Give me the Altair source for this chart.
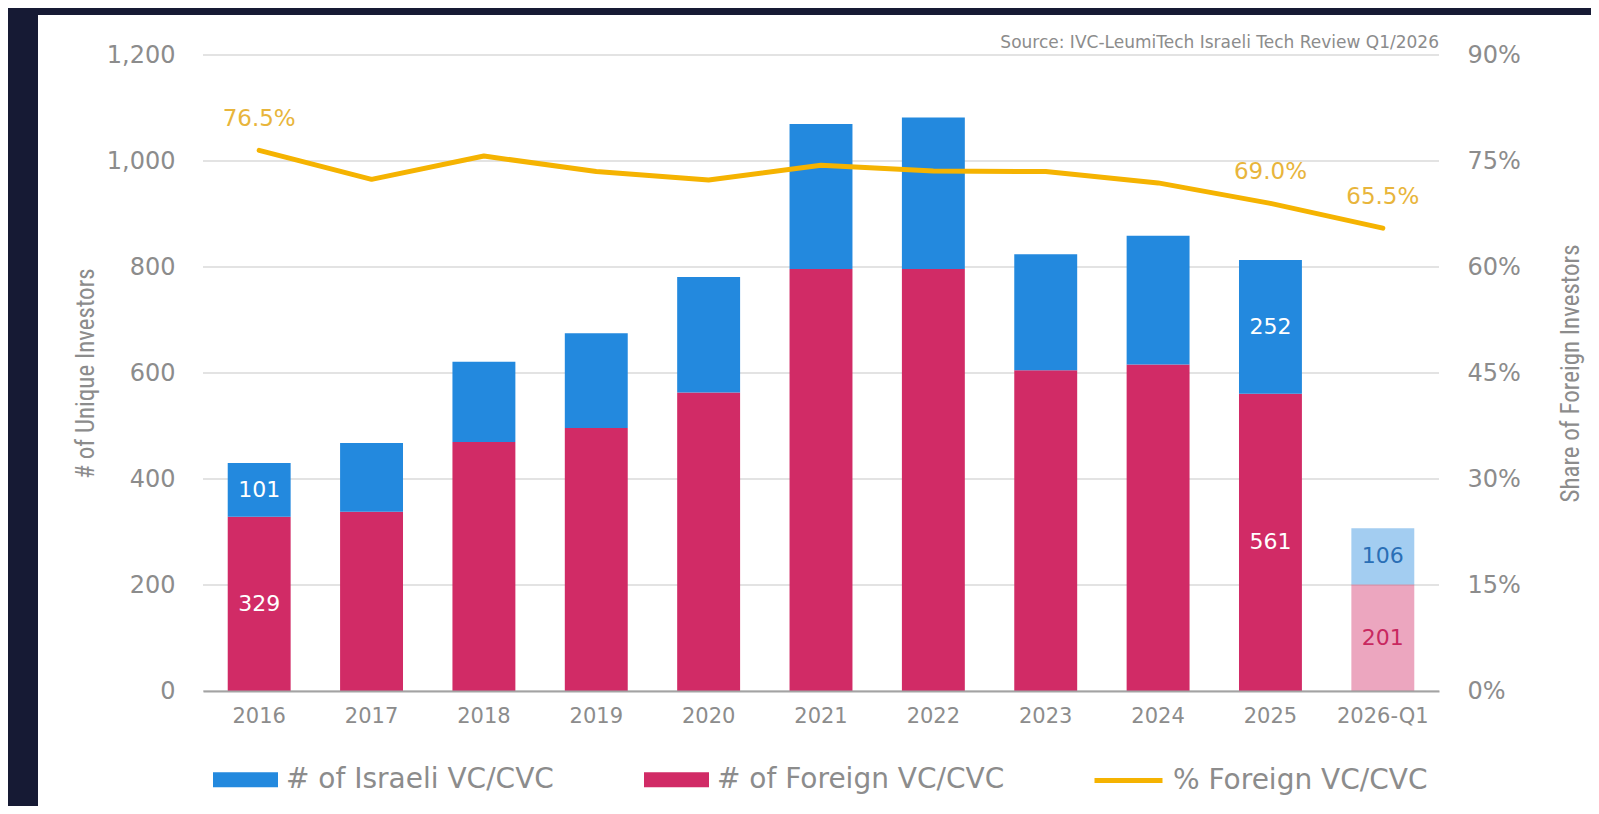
import altair as alt
import pandas as pd

# ---------------- data ----------------
PERIODS = ["2016", "2017", "2018", "2019", "2020", "2021", "2022", "2023", "2024", "2025", "2026-Q1"]
FOREIGN = [329, 338, 470, 496, 563, 796, 796, 605, 616, 561, 201]
ISRAELI = [101, 130, 151, 179, 218, 274, 286, 219, 243, 252, 106]
PCT_FOREIGN = [76.5, 72.4, 75.7, 73.5, 72.3, 74.4, 73.6, 73.5, 71.9, 69.0, 65.5]
LABELED = ["2016", "2025", "2026-Q1"]
PARTIAL = "2026-Q1"
SERIES = ["# of Israeli VC/CVC", "# of Foreign VC/CVC"]
LINE_SERIES = "% Foreign VC/CVC"
Y_LEFT_TICKS = [0, 200, 400, 600, 800, 1000, 1200]
Y_RIGHT_TICKS = [0, 15, 30, 45, 60, 75, 90]
SOURCE = "Source: IVC-LeumiTech Israeli Tech Review Q1/2026"
LEFT_TITLE = "# of Unique Investors"
RIGHT_TITLE = "Share of Foreign Investors"

# ---------------- style ----------------
NAVY = "#161a34"
BLUE = "#2389de"
PINK = "#d12b66"
YELLOW = "#f5b301"
LABEL_YELLOW = "#e8b53b"
DARK_BLUE = "#2a6fb6"
DARK_PINK = "#c8285f"
GRAY = "#8c8c8c"
GRID = "#dadada"
FONT = "DejaVu Sans"
NARROW = "Liberation Sans Narrow, Roboto Condensed, Roboto"

W, H = 1236, 636

rows = []
for p, f, i in zip(PERIODS, FOREIGN, ISRAELI):
    rows.append({"period": p, "series": SERIES[1], "value": f, "stack_order": 0, "mid": f / 2})
    rows.append({"period": p, "series": SERIES[0], "value": i, "stack_order": 1, "mid": f + i / 2})
bar_df = pd.DataFrame(rows)
line_df = pd.DataFrame({"period": PERIODS, "pct": PCT_FOREIGN, "series": LINE_SERIES})
tick_df = pd.DataFrame({"tick": Y_LEFT_TICKS})
src_df = pd.DataFrame({"text": [SOURCE]})

X = alt.X(
    "period:N", sort=PERIODS, title=None,
    scale=alt.Scale(paddingInner=0.44, paddingOuter=0.22),
    axis=alt.Axis(labelAngle=0, labelFont=FONT, labelFontSize=21, labelColor=GRAY,
                  labelPadding=14, ticks=False, tickSize=0, domainColor="#a3a3a3",
                  domainWidth=2, grid=False, zindex=1),
)
Y_LEFT_SCALE = alt.Scale(domain=[0, 1200], nice=False)
Y_RIGHT_SCALE = alt.Scale(domain=[0, 90], nice=False)
Y_LEFT_AXIS = alt.Axis(values=Y_LEFT_TICKS, labelExpr="format(datum.value, ',d')",
                       title=LEFT_TITLE, grid=False,
                       labelFont=FONT, labelFontSize=24, labelColor=GRAY, labelPadding=28,
                       ticks=False, tickSize=0, domain=False, titleFont=NARROW,
                       titleFontSize=25, titleFontWeight="normal", titleColor=GRAY,
                       titlePadding=8, zindex=1)

bg = alt.Chart(alt.Data(values=[{}])).mark_rect(color="white").encode(
    x=alt.value(-165), x2=alt.value(1400), y=alt.value(-40), y2=alt.value(760)
)

grid = alt.Chart(tick_df).mark_rule(color=GRID, strokeWidth=1.5).encode(
    y=alt.Y("tick:Q", scale=Y_LEFT_SCALE, axis=Y_LEFT_AXIS)
)

bars = alt.Chart(bar_df).mark_bar().encode(
    x=X,
    y=alt.Y("value:Q", stack="zero", scale=Y_LEFT_SCALE, axis=Y_LEFT_AXIS),
    fill=alt.Fill("series:N", scale=alt.Scale(domain=SERIES, range=[BLUE, PINK]),
                  legend=alt.Legend(orient="none", legendX=10, legendY=692,
                                    direction="horizontal", title=None,
                                    symbolType="M-1,-0.23H1V0.23H-1Z", symbolSize=4225,
                                    symbolStrokeWidth=0, symbolOpacity=1,
                                    labelFont=FONT, labelFontSize=28, labelColor=GRAY,
                                    labelOffset=8, columnPadding=90, labelLimit=600)),
    order=alt.Order("stack_order:Q"),
    opacity=alt.condition(alt.datum.period == PARTIAL, alt.value(0.42), alt.value(1.0)),
)

lab_base = alt.Chart(bar_df).transform_filter(
    alt.FieldOneOfPredicate(field="period", oneOf=LABELED)
)
lab_white = lab_base.transform_filter(alt.datum.period != PARTIAL).mark_text(
    font=FONT, fontSize=22, color="white", baseline="middle"
).encode(x=X, y=alt.Y("mid:Q", scale=Y_LEFT_SCALE, axis=Y_LEFT_AXIS), text="value:Q")
lab_blue = lab_base.transform_filter(
    (alt.datum.period == PARTIAL) & (alt.datum.series == SERIES[0])
).mark_text(font=FONT, fontSize=22, color=DARK_BLUE, baseline="middle").encode(
    x=X, y=alt.Y("mid:Q", scale=Y_LEFT_SCALE, axis=Y_LEFT_AXIS), text="value:Q")
lab_pink = lab_base.transform_filter(
    (alt.datum.period == PARTIAL) & (alt.datum.series == SERIES[1])
).mark_text(font=FONT, fontSize=22, color=DARK_PINK, baseline="middle").encode(
    x=X, y=alt.Y("mid:Q", scale=Y_LEFT_SCALE, axis=Y_LEFT_AXIS), text="value:Q")

source = alt.Chart(src_df).mark_text(
    font=FONT, fontSize=17, color=GRAY, align="right", baseline="middle"
).encode(x=alt.value(W), y=alt.value(-12), text="text:N")

left_group = alt.layer(grid, bars, lab_white, lab_blue, lab_pink, source)

line = alt.Chart(line_df).mark_line(strokeWidth=5, strokeCap="round", strokeJoin="round").encode(
    x=X,
    y=alt.Y("pct:Q", scale=Y_RIGHT_SCALE,
            axis=alt.Axis(orient="right", values=Y_RIGHT_TICKS, labelExpr="datum.value + '%'",
                          title=RIGHT_TITLE, grid=False, labelFont=FONT, labelFontSize=24,
                          labelColor=GRAY, labelPadding=28, ticks=False, tickSize=0,
                          domain=False, titleFont=NARROW, titleFontSize=25,
                          titleFontWeight="normal", titleColor=GRAY, titleAngle=270,
                          titleBaseline="top", titlePadding=38, zindex=1)),
    stroke=alt.Stroke("series:N", scale=alt.Scale(domain=[LINE_SERIES], range=[YELLOW]),
                      legend=alt.Legend(orient="none", legendX=889, legendY=689,
                                        direction="horizontal", title=None,
                                        symbolType="stroke", symbolSize=4624,
                                        symbolStrokeWidth=5, labelFont=FONT,
                                        labelFontSize=28, labelColor=GRAY, labelOffset=8,
                                        labelLimit=600)),
)

line_labels = alt.Chart(line_df).transform_filter(
    alt.FieldOneOfPredicate(field="period", oneOf=LABELED)
).transform_calculate(
    txt="format(datum.pct, '.1f') + '%'"
).mark_text(font=FONT, fontSize=23, color=LABEL_YELLOW, dy=-31, baseline="middle").encode(
    x=X, y=alt.Y("pct:Q", scale=Y_RIGHT_SCALE), text="txt:N"
)

right_group = alt.layer(line, line_labels)

chart = alt.layer(bg, left_group, right_group).resolve_scale(
    y="independent"
).properties(
    width=W, height=H, background=NAVY, autosize="none",
    padding={"left": 195, "top": 47, "right": 152, "bottom": 115},
).configure_view(stroke=None)

chart.save("out.html", embed_options={"renderer": "svg", "actions": False})
